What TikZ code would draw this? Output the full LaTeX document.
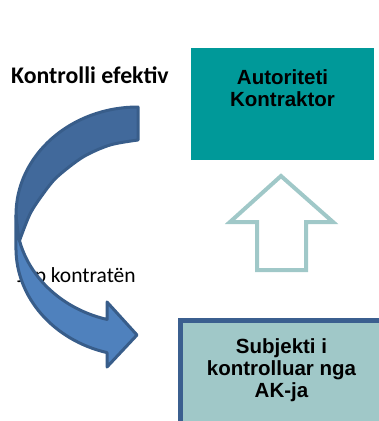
\documentclass[tikz,border=0pt]{standalone}
\usepackage{fontspec}
\setmainfont{Carlito}
\newfontfamily\arialfont{Liberation Sans}
\definecolor{tealbox}{HTML}{009999}
\definecolor{lteal}{HTML}{A0C8C8}
\definecolor{bordblue}{HTML}{3B5F8F}
\definecolor{arrfront}{HTML}{4F81BD}
\definecolor{arrback}{HTML}{41699B}
\definecolor{arrline}{HTML}{385D8A}
\begin{document}
\begin{tikzpicture}[x=1pt,y=-1pt,
  boxtext/.style={font=\arialfont\bfseries\fontsize{20.5}{22}\selectfont, align=center, inner sep=0pt, anchor=base},
  plaintext/.style={inner sep=0pt, anchor=base west},
  arrowpart/.style={draw=arrline, line width=3pt, line join=round}]
\useasboundingbox (0,0) rectangle (379,421);

% boxes
\node[fill=tealbox, minimum width=183pt, minimum height=112pt, inner sep=0pt, outer sep=0pt, anchor=north west] (ak) at (191,48) {};
\node[boxtext] (aktext) at (282.5,106) {Autoriteti\\Kontraktor};

\node[fill=lteal, minimum width=200.7pt, minimum height=102.7pt, inner sep=0pt, outer sep=0pt, anchor=north west] (sub) at (178.3,318.3) {};
\draw[bordblue, line width=5pt]
  ([xshift=2.5pt]sub.south west) |- ([yshift=-2.5pt]sub.north east);
\node[boxtext] (subtext) at (281.5,397) {Subjekti i\\kontrolluar nga\\AK-ja};

% texts
\node[plaintext, font=\bfseries\fontsize{23.8}{28}\selectfont] (ke) at (11,83) {Kontrolli efektiv};
\node[plaintext, font=\fontsize{21.5}{26}\selectfont] (jk) at (17,282) {Jep kontratën};

% up arrow (outline)
\draw[lteal, line width=4pt, line join=miter]
  (281,176) -- (333,222) -- (306,222) -- (306,270) -- (257,270) -- (257,222) -- (230,222) -- cycle;

% curved arrow: back part
\path[arrowpart, fill=arrback]
  (16,215) arc[start angle=180, end angle=270, x radius=122, y radius=108]
  -- (138,140)
  -- plot[smooth] coordinates {(138,140) (110,145) (83,157) (57,177) (43,194) (30,214) (19,242)}
  -- cycle;
% curved arrow: front part
\path[arrowpart, fill=arrfront]
  (16,215) arc[start angle=180, end angle=104.7, x radius=122, y radius=108]
  -- (107,302) -- (137,335) -- (107,367) -- (107,352.6)
  arc[start angle=104.7, end angle=180, x radius=122, y radius=108]
  -- cycle;
\end{tikzpicture}
\end{document}
